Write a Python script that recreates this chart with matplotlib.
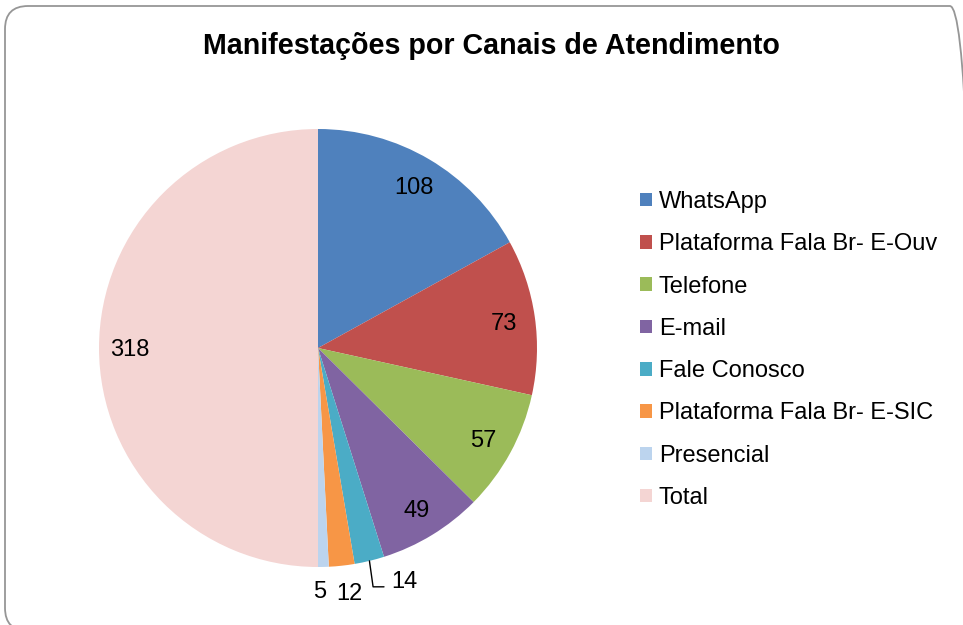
import numpy as np
import matplotlib.pyplot as plt
from matplotlib.patches import FancyBboxPatch

plt.rcParams["font.family"] = ["Liberation Sans", "DejaVu Sans"]

# data
canais = ["WhatsApp", "Plataforma Fala Br- E-Ouv", "Telefone", "E-mail",
          "Fale Conosco", "Plataforma Fala Br- E-SIC", "Presencial", "Total"]
valores = [108, 73, 57, 49, 14, 12, 5, 318]
cores = ["#4F81BD", "#C0504D", "#9BBB59", "#8064A2",
         "#4BACC6", "#F79646", "#BCD4EE", "#F4D5D3"]

W, H = 963, 625
fig = plt.figure(figsize=(W / 100, H / 100), dpi=100)
fig.patch.set_facecolor("white")

# rounded chart border (runs off the right and bottom edges, as in the original)
border = FancyBboxPatch((5 / W, -6 / H), 968 / W, 625 / H,
                        boxstyle="round,pad=0,rounding_size=0.024",
                        transform=fig.transFigure, facecolor="none",
                        edgecolor="#969696", linewidth=1.3, mutation_aspect=W / H)
fig.patches.append(border)

# pie axes: centre (318, 348), radius 219 px
cx, cy, r = 318, 348, 219
ax = fig.add_axes([(cx - r) / W, (H - cy - r) / H, 2 * r / W, 2 * r / H])
wedges, _ = ax.pie(valores, colors=cores, startangle=90, counterclock=False,
                   radius=1.0, wedgeprops=dict(linewidth=0))
ax.set_xlim(-1, 1)
ax.set_ylim(-1, 1)
ax.set_aspect("equal")
ax.axis("off")

total = sum(valores)
cum = np.cumsum([0] + valores[:-1])
mids = 90 - (cum + np.array(valores) / 2) / total * 360

# small slices: labels outside, placed by hand like the original
fora = {14: (0.393, -1.059), 12: (0.142, -1.114), 5: (0.009, -1.105)}

for i, v in enumerate(valores):
    a = np.deg2rad(mids[i])
    if v not in fora:
        ax.text(0.86 * np.cos(a), 0.86 * np.sin(a), str(v),
                ha="center", va="center_baseline", fontsize=17)
    elif v == 14:
        ax.annotate(str(v), xy=(np.cos(a), np.sin(a)), xytext=fora[v],
                    ha="center", va="center_baseline", fontsize=17,
                    annotation_clip=False,
                    arrowprops=dict(arrowstyle="-", color="black", lw=1.0,
                                    relpos=(0, 0.3), shrinkA=3, shrinkB=0,
                                    connectionstyle="angle,angleA=180,angleB=98,rad=0"))
    else:
        ax.text(*fora[v], str(v), ha="center", va="center_baseline", fontsize=17)

fig.text(491 / W, 1 - 46 / H, "Manifestações por Canais de Atendimento",
         ha="center", va="center", fontsize=20.6, fontweight="bold")

fig.legend(wedges, canais, loc="center left",
           bbox_to_anchor=(640 / W, 1 - 350 / H), frameon=False,
           fontsize=17, handlelength=0.5, handleheight=0.5,
           handletextpad=0.3, labelspacing=0.86, borderpad=0, borderaxespad=0)

fig.savefig("out.png", dpi=100, facecolor="white")
